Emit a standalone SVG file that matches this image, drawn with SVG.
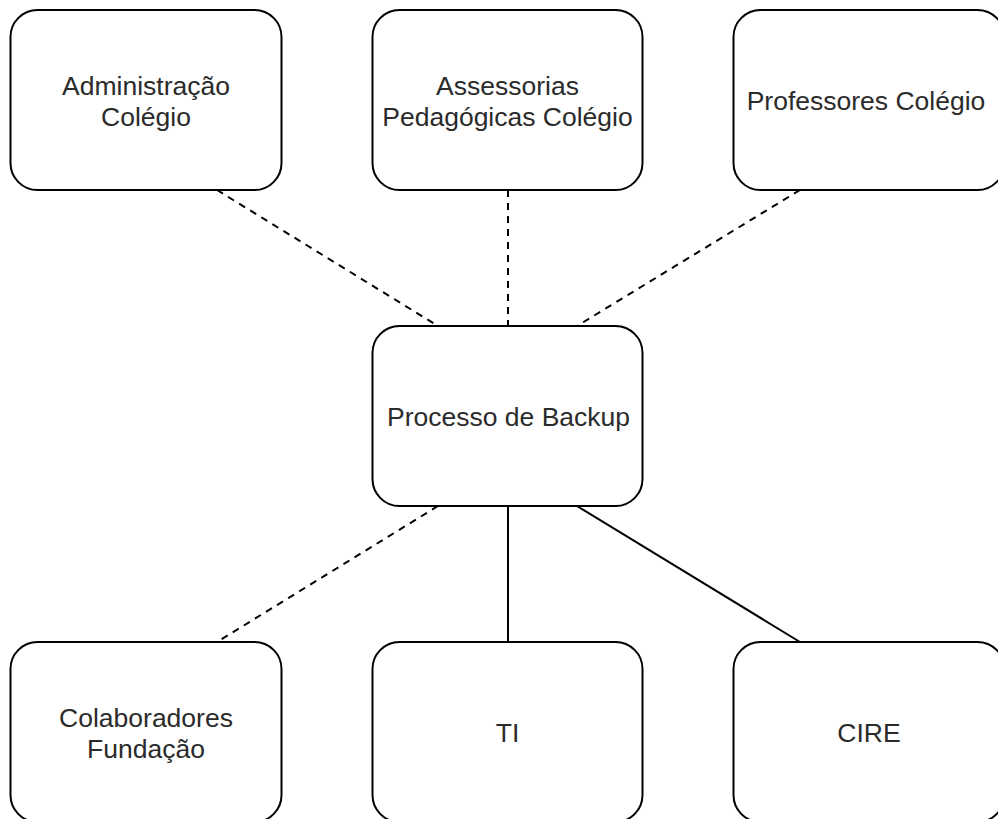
<svg xmlns="http://www.w3.org/2000/svg" width="998" height="819" viewBox="0 0 998 819">
  <style>
    .box { fill: #ffffff; stroke: #000000; stroke-width: 2; }
    .label { font-family: "Liberation Sans", Arial, Helvetica, sans-serif; font-size: 26.5px; fill: #2b2b2b; text-anchor: middle; }
    .link { stroke: #000000; stroke-width: 2; fill: none; }
    .dashed { stroke-dasharray: 7 6; }
  </style>
  <rect width="998" height="819" fill="#ffffff"/>

  <!-- connectors -->
  <g id="connectors">
    <line class="link dashed" x1="217" y1="190" x2="438" y2="326"/>
    <line class="link dashed" x1="508" y1="190" x2="508" y2="326"/>
    <line class="link dashed" x1="800" y1="190" x2="577" y2="326"/>
    <line class="link dashed" x1="438" y1="506" x2="217" y2="642"/>
    <line class="link" x1="508" y1="506" x2="508" y2="642"/>
    <line class="link" x1="577" y1="506" x2="800" y2="642"/>
  </g>

  <!-- top row -->
  <g id="administracao-colegio">
    <rect class="box" x="10.5" y="10" width="271" height="180" rx="27" ry="27"/>
    <text class="label" x="146" y="95">Administração</text>
    <text class="label" x="146" y="126">Colégio</text>
  </g>
  <g id="assessorias-pedagogicas">
    <rect class="box" x="372.5" y="10" width="270" height="180" rx="27" ry="27"/>
    <text class="label" x="507.5" y="95">Assessorias</text>
    <text class="label" x="507.5" y="126">Pedagógicas Colégio</text>
  </g>
  <g id="professores-colegio">
    <rect class="box" x="733.5" y="10" width="271" height="180" rx="27" ry="27"/>
    <text class="label" x="866" y="110">Professores Colégio</text>
  </g>

  <!-- center -->
  <g id="processo-backup">
    <rect class="box" x="372.5" y="326" width="270" height="180" rx="27" ry="27"/>
    <text class="label" x="508.5" y="426">Processo de Backup</text>
  </g>

  <!-- bottom row -->
  <g id="colaboradores-fundacao">
    <rect class="box" x="10.5" y="642" width="271" height="180" rx="27" ry="27"/>
    <text class="label" x="146" y="727">Colaboradores</text>
    <text class="label" x="146" y="758">Fundação</text>
  </g>
  <g id="ti">
    <rect class="box" x="372.5" y="642" width="270" height="180" rx="27" ry="27"/>
    <text class="label" x="507.5" y="742">TI</text>
  </g>
  <g id="cire">
    <rect class="box" x="733.5" y="642" width="271" height="180" rx="27" ry="27"/>
    <text class="label" x="869" y="742">CIRE</text>
  </g>
</svg>
